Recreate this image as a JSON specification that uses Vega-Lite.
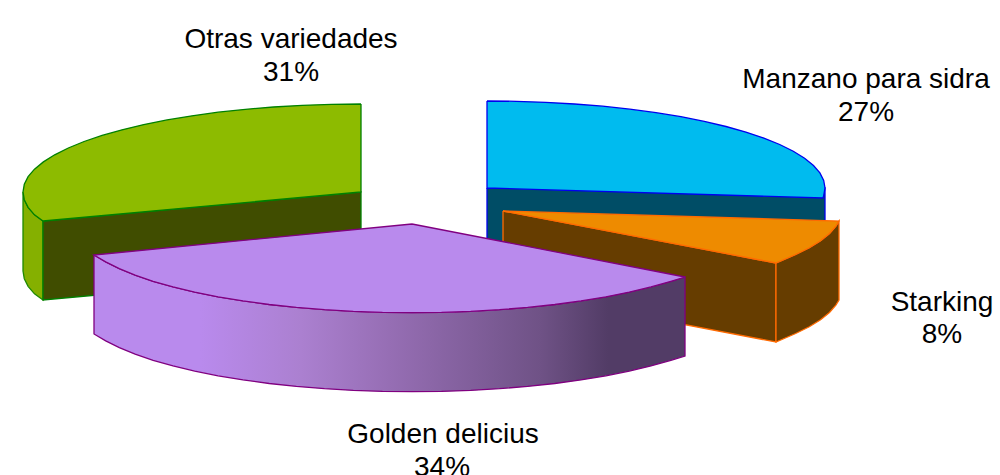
{"$schema":"https://vega.github.io/schema/vega-lite/v6.json","width":1000,"height":475,"autosize":{"type":"none"},"padding":0,"background":"white","view":{"stroke":null},
"datasets":{"faces":[
{"f":"gw","s":1,"x":23,"y":192},{"f":"gw","s":2,"x":24.3,"y":199.7},{"f":"gw","s":3,"x":28.1,"y":207.3},{"f":"gw","s":4,"x":34.5,"y":214.8},{"f":"gw","s":5,"x":43,"y":221},{"f":"gw","s":6,"x":43,"y":300},{"f":"gw","s":7,"x":34.5,"y":293.8},{"f":"gw","s":8,"x":28.1,"y":286.3},{"f":"gw","s":9,"x":24.3,"y":278.7},{"f":"gw","s":10,"x":23,"y":271},{"f":"gw","s":11,"x":23,"y":192},
{"f":"gi","s":1,"x":43,"y":221},{"f":"gi","s":2,"x":361,"y":192},{"f":"gi","s":3,"x":361,"y":271},{"f":"gi","s":4,"x":43,"y":300},{"f":"gi","s":5,"x":43,"y":221},
{"f":"gt","s":1,"x":361,"y":104},{"f":"gt","s":1.5,"x":331.5,"y":104.3},{"f":"gt","s":2,"x":302.3,"y":105.3},{"f":"gt","s":2.5,"x":273.5,"y":107},{"f":"gt","s":3,"x":245.4,"y":109.3},{"f":"gt","s":3.5,"x":218.2,"y":112.2},{"f":"gt","s":4,"x":192,"y":115.8},{"f":"gt","s":4.5,"x":167.1,"y":119.9},{"f":"gt","s":5,"x":143.7,"y":124.6},{"f":"gt","s":5.5,"x":122,"y":129.8},{"f":"gt","s":6,"x":102.1,"y":135.4},{"f":"gt","s":6.5,"x":84.1,"y":141.5},{"f":"gt","s":7,"x":68.3,"y":148},{"f":"gt","s":7.5,"x":54.7,"y":154.8},{"f":"gt","s":8,"x":43.4,"y":161.9},{"f":"gt","s":9,"x":34.5,"y":169.2},{"f":"gt","s":10,"x":28.1,"y":176.7},{"f":"gt","s":11,"x":24.3,"y":184.3},{"f":"gt","s":12,"x":23,"y":192},{"f":"gt","s":13,"x":24.3,"y":199.7},{"f":"gt","s":14,"x":28.1,"y":207.3},{"f":"gt","s":15,"x":34.5,"y":214.8},{"f":"gt","s":16,"x":43,"y":221},{"f":"gt","s":17,"x":361,"y":192},{"f":"gt","s":18,"x":361,"y":104},
{"f":"bi","s":1,"x":487,"y":188},{"f":"bi","s":2,"x":825,"y":188},{"f":"bi","s":3,"x":825,"y":277},{"f":"bi","s":4,"x":487,"y":240},{"f":"bi","s":5,"x":487,"y":188},
{"f":"bt","s":1,"x":487,"y":101},{"f":"bt","s":1.5,"x":516.5,"y":101.3},{"f":"bt","s":2,"x":545.7,"y":102.3},{"f":"bt","s":2.5,"x":574.5,"y":104},{"f":"bt","s":3,"x":602.6,"y":106.2},{"f":"bt","s":3.5,"x":629.8,"y":109.2},{"f":"bt","s":4,"x":656,"y":112.7},{"f":"bt","s":4.5,"x":680.9,"y":116.7},{"f":"bt","s":5,"x":704.3,"y":121.4},{"f":"bt","s":5.5,"x":726,"y":126.5},{"f":"bt","s":6,"x":745.9,"y":132.1},{"f":"bt","s":6.5,"x":763.9,"y":138.1},{"f":"bt","s":7,"x":779.7,"y":144.5},{"f":"bt","s":7.5,"x":793.3,"y":151.2},{"f":"bt","s":8,"x":804.6,"y":158.2},{"f":"bt","s":9,"x":813.5,"y":165.5},{"f":"bt","s":10,"x":819.9,"y":172.9},{"f":"bt","s":11,"x":823.7,"y":180.4},{"f":"bt","s":12,"x":825,"y":188},{"f":"bt","s":13,"x":823.7,"y":195.6},{"f":"bt","s":14,"x":823,"y":198},{"f":"bt","s":15,"x":487,"y":188},{"f":"bt","s":16,"x":487,"y":101},
{"f":"oi","s":1,"x":503,"y":211},{"f":"oi","s":2,"x":776,"y":263},{"f":"oi","s":3,"x":776,"y":342},{"f":"oi","s":4,"x":503,"y":290},{"f":"oi","s":5,"x":503,"y":211},
{"f":"ow","s":1,"x":776,"y":263},{"f":"ow","s":2,"x":795.7,"y":254.5},{"f":"ow","s":3,"x":809.3,"y":247.8},{"f":"ow","s":4,"x":820.6,"y":240.8},{"f":"ow","s":5,"x":829.5,"y":233.5},{"f":"ow","s":6,"x":835.9,"y":226.1},{"f":"ow","s":7,"x":839,"y":221},{"f":"ow","s":8,"x":839,"y":300},{"f":"ow","s":9,"x":835.9,"y":305.1},{"f":"ow","s":10,"x":829.5,"y":312.5},{"f":"ow","s":11,"x":820.6,"y":319.8},{"f":"ow","s":12,"x":809.3,"y":326.8},{"f":"ow","s":13,"x":795.7,"y":333.5},{"f":"ow","s":14,"x":776,"y":342},{"f":"ow","s":15,"x":776,"y":263},
{"f":"ot","s":1,"x":503,"y":211},{"f":"ot","s":2,"x":839,"y":221},{"f":"ot","s":3,"x":835.9,"y":226.1},{"f":"ot","s":4,"x":829.5,"y":233.5},{"f":"ot","s":5,"x":820.6,"y":240.8},{"f":"ot","s":6,"x":809.3,"y":247.8},{"f":"ot","s":7,"x":795.7,"y":254.5},{"f":"ot","s":8,"x":776,"y":263},{"f":"ot","s":9,"x":503,"y":211},
{"f":"pw","s":1,"x":94,"y":255},{"f":"pw","s":1.5,"x":105.7,"y":261.9},{"f":"pw","s":2,"x":119.3,"y":268.7},{"f":"pw","s":2.5,"x":135.1,"y":275.2},{"f":"pw","s":3,"x":153.1,"y":281.3},{"f":"pw","s":3.5,"x":173,"y":286.9},{"f":"pw","s":4,"x":194.7,"y":292.1},{"f":"pw","s":4.5,"x":218.1,"y":296.8},{"f":"pw","s":5,"x":243,"y":300.9},{"f":"pw","s":5.5,"x":269.2,"y":304.5},{"f":"pw","s":6,"x":296.4,"y":307.4},{"f":"pw","s":6.5,"x":324.5,"y":309.7},{"f":"pw","s":7,"x":353.3,"y":311.4},{"f":"pw","s":7.5,"x":382.5,"y":312.4},{"f":"pw","s":8,"x":412,"y":312.7},{"f":"pw","s":8.5,"x":441.5,"y":312.4},{"f":"pw","s":9,"x":470.7,"y":311.4},{"f":"pw","s":9.5,"x":499.5,"y":309.7},{"f":"pw","s":10,"x":527.6,"y":307.4},{"f":"pw","s":10.5,"x":554.8,"y":304.5},{"f":"pw","s":11,"x":581,"y":300.9},{"f":"pw","s":11.5,"x":605.9,"y":296.8},{"f":"pw","s":12,"x":629.3,"y":292.1},{"f":"pw","s":12.5,"x":651,"y":286.9},{"f":"pw","s":13,"x":670.9,"y":281.3},{"f":"pw","s":14,"x":685,"y":277},{"f":"pw","s":15,"x":685,"y":356},{"f":"pw","s":16,"x":670.9,"y":360.3},{"f":"pw","s":16.5,"x":651,"y":365.9},{"f":"pw","s":17,"x":629.3,"y":371.1},{"f":"pw","s":17.5,"x":605.9,"y":375.8},{"f":"pw","s":18,"x":581,"y":379.9},{"f":"pw","s":18.5,"x":554.8,"y":383.5},{"f":"pw","s":19,"x":527.6,"y":386.4},{"f":"pw","s":19.5,"x":499.5,"y":388.7},{"f":"pw","s":20,"x":470.7,"y":390.4},{"f":"pw","s":20.5,"x":441.5,"y":391.4},{"f":"pw","s":21,"x":412,"y":391.7},{"f":"pw","s":21.5,"x":382.5,"y":391.4},{"f":"pw","s":22,"x":353.3,"y":390.4},{"f":"pw","s":22.5,"x":324.5,"y":388.7},{"f":"pw","s":23,"x":296.4,"y":386.4},{"f":"pw","s":23.5,"x":269.2,"y":383.5},{"f":"pw","s":24,"x":243,"y":379.9},{"f":"pw","s":24.5,"x":218.1,"y":375.8},{"f":"pw","s":25,"x":194.7,"y":371.1},{"f":"pw","s":25.5,"x":173,"y":365.9},{"f":"pw","s":26,"x":153.1,"y":360.3},{"f":"pw","s":26.5,"x":135.1,"y":354.2},{"f":"pw","s":27,"x":119.3,"y":347.7},{"f":"pw","s":27.5,"x":105.7,"y":340.9},{"f":"pw","s":28,"x":94,"y":334},{"f":"pw","s":29,"x":94,"y":255},
{"f":"pt","s":1,"x":412,"y":224},{"f":"pt","s":2,"x":94,"y":255},{"f":"pt","s":2.5,"x":105.7,"y":261.9},{"f":"pt","s":3,"x":119.3,"y":268.7},{"f":"pt","s":3.5,"x":135.1,"y":275.2},{"f":"pt","s":4,"x":153.1,"y":281.3},{"f":"pt","s":4.5,"x":173,"y":286.9},{"f":"pt","s":5,"x":194.7,"y":292.1},{"f":"pt","s":5.5,"x":218.1,"y":296.8},{"f":"pt","s":6,"x":243,"y":300.9},{"f":"pt","s":6.5,"x":269.2,"y":304.5},{"f":"pt","s":7,"x":296.4,"y":307.4},{"f":"pt","s":7.5,"x":324.5,"y":309.7},{"f":"pt","s":8,"x":353.3,"y":311.4},{"f":"pt","s":8.5,"x":382.5,"y":312.4},{"f":"pt","s":9,"x":412,"y":312.7},{"f":"pt","s":9.5,"x":441.5,"y":312.4},{"f":"pt","s":10,"x":470.7,"y":311.4},{"f":"pt","s":10.5,"x":499.5,"y":309.7},{"f":"pt","s":11,"x":527.6,"y":307.4},{"f":"pt","s":11.5,"x":554.8,"y":304.5},{"f":"pt","s":12,"x":581,"y":300.9},{"f":"pt","s":12.5,"x":605.9,"y":296.8},{"f":"pt","s":13,"x":629.3,"y":292.1},{"f":"pt","s":13.5,"x":651,"y":286.9},{"f":"pt","s":14,"x":670.9,"y":281.3},{"f":"pt","s":15,"x":685,"y":277},{"f":"pt","s":16,"x":412,"y":224}
],
"labels":[
{"t":"Otras variedades","x":291,"y":48},{"t":"31%","x":291,"y":81},
{"t":"Manzano para sidra","x":866,"y":88},{"t":"27%","x":866,"y":121},
{"t":"Starking","x":942,"y":311},{"t":"8%","x":942,"y":343},
{"t":"Golden delicius","x":443,"y":443},{"t":"34%","x":442,"y":476}
]},
"encoding":{"x":{"field":"x","type":"quantitative","scale":{"domain":[0,1000]},"axis":null},"y":{"field":"y","type":"quantitative","scale":{"domain":[475,0]},"axis":null},"order":{"field":"s","type":"quantitative"}},
"layer":[
{"data":{"name":"faces"},"transform":[{"filter":"datum.f==='gw'"}],"mark":{"type":"line","fill":"#85b000","stroke":"#1f8a00","strokeWidth":1.3}},
{"data":{"name":"faces"},"transform":[{"filter":"datum.f==='gi'"}],"mark":{"type":"line","fill":"#404d00","stroke":"#008000","strokeWidth":1.3}},
{"data":{"name":"faces"},"transform":[{"filter":"datum.f==='gt'"}],"mark":{"type":"line","fill":"#8dbb00","stroke":"#008000","strokeWidth":1.3}},
{"data":{"name":"faces"},"transform":[{"filter":"datum.f==='bi'"}],"mark":{"type":"line","fill":"#004d66","stroke":"#0000ee","strokeWidth":1.3}},
{"data":{"name":"faces"},"transform":[{"filter":"datum.f==='bt'"}],"mark":{"type":"line","fill":"#00bbef","stroke":"#0000ee","strokeWidth":1.3}},
{"data":{"name":"faces"},"transform":[{"filter":"datum.f==='oi'"}],"mark":{"type":"line","fill":"#663d00","stroke":"#ff6a00","strokeWidth":1.3}},
{"data":{"name":"faces"},"transform":[{"filter":"datum.f==='ow'"}],"mark":{"type":"line","fill":"#663d00","stroke":"#ff6a00","strokeWidth":1.3}},
{"data":{"name":"faces"},"transform":[{"filter":"datum.f==='ot'"}],"mark":{"type":"line","fill":"#ee8b00","stroke":"#ff6a00","strokeWidth":1.3}},
{"data":{"name":"faces"},"transform":[{"filter":"datum.f==='pw'"}],"mark":{"type":"line","stroke":"#800080","strokeWidth":1.3,"fill":{"gradient":"linear","x1":0,"x2":1,"y1":0,"y2":0,"stops":[{"offset":0,"color":"#b98aed"},{"offset":0.18,"color":"#b98aed"},{"offset":0.35,"color":"#ab80d0"},{"offset":0.5,"color":"#966eb4"},{"offset":0.755,"color":"#6f5286"},{"offset":0.87,"color":"#523c66"},{"offset":1,"color":"#523c66"}]}}},
{"data":{"name":"faces"},"transform":[{"filter":"datum.f==='pt'"}],"mark":{"type":"line","fill":"#b98aed","stroke":"#800080","strokeWidth":1.3}},
{"data":{"name":"labels"},"mark":{"type":"text","font":"Liberation Sans","fontSize":28,"color":"#000000","align":"center","baseline":"alphabetic"},"encoding":{"text":{"field":"t","type":"nominal"},"order":null}}
]}
